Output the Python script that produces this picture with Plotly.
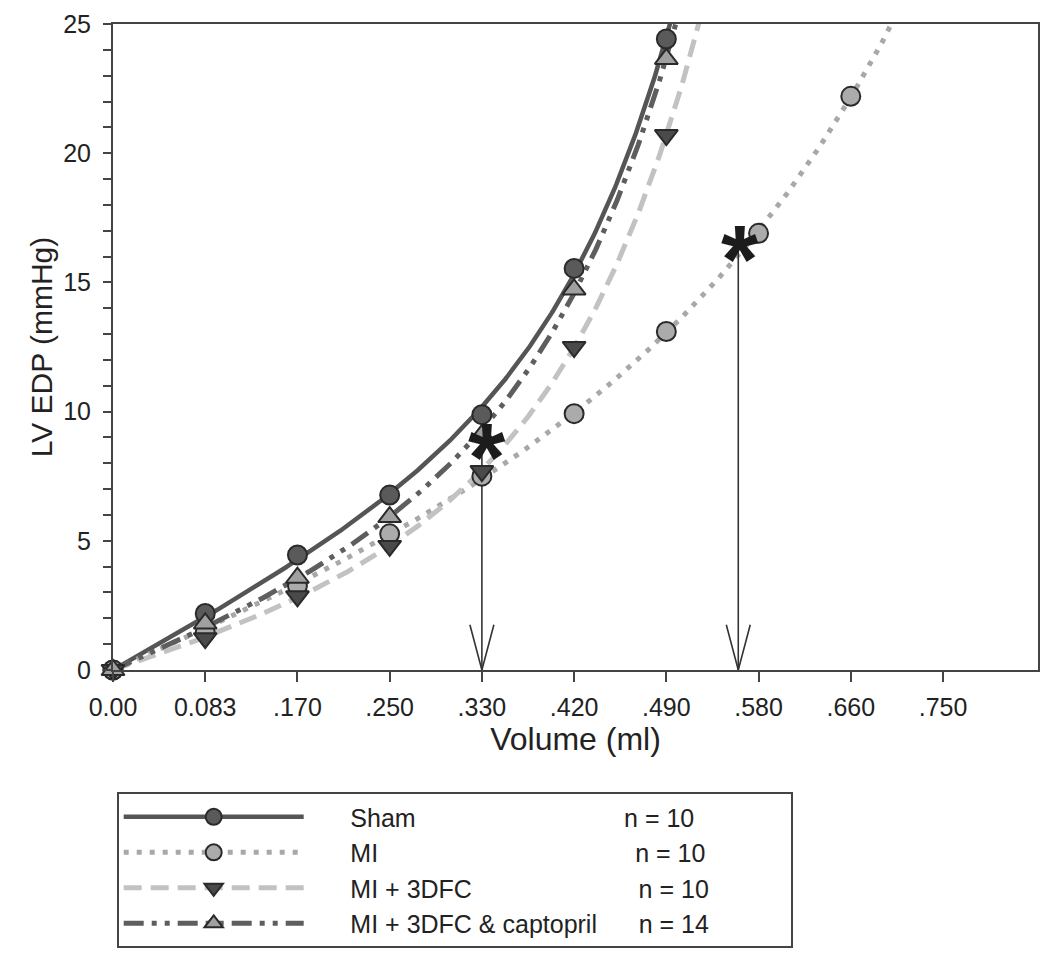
import numpy as np
import plotly.graph_objects as go

# ---------------- data ----------------
volume_labels = ["0.00", "0.083", ".170", ".250", ".330", ".420", ".490", ".580", ".660", ".750"]
volume_pos = list(range(len(volume_labels)))

series_names = ["Sham", "MI", "MI + 3DFC", "MI + 3DFC & captopril"]
n_values = [10, 10, 10, 14]

sham = [0.0, 2.19, 4.45, 6.77, 9.88, 15.54, 24.42]
mi = [0.0, 1.46, 3.26, 5.27, 7.5, 9.92, 13.1, 16.9, 22.2]
mi_3dfc = [0.0, 1.23, 2.85, 4.8, 7.7, 12.5, 20.7]
mi_3dfc_capt = [0.0, 1.8, 3.57, 5.92, 9.1, 14.73, 23.65]

# significance markers: arrows down to the volume axis, asterisks at their tops
arrow_x = [4.0, 6.78]
arrow_y = [8.9, 16.55]
star_x = [4.06, 6.8]
star_y = [8.9, 16.55]

# ---------------- styles ----------------
FONT = "Liberation Sans, Arial, Helvetica, sans-serif"
NB = "\u00a0"
styles = [
    dict(color="#555555", dash="solid", width=4.5, symbol="circle", mfill="#5a5a5a"),
    dict(color="#a8a8a8", dash="5px,8px", width=5, symbol="circle", mfill="#ababab"),
    dict(color="#c2c2c2", dash="18px,9px", width=5, symbol="triangle-down", mfill="#4a4a4a"),
    dict(color="#5e5e5e", dash="20px,8px,5px,8px,5px,8px", width=5, symbol="triangle-up", mfill="#a0a0a0"),
]
# spacing (in non-breaking spaces) used to lay out the legend text columns
legend_pad = [30, 37, 24, 6]
all_series = [sham, mi, mi_3dfc, mi_3dfc_capt]


def fit_curve(xv, yv):
    """least-squares fit  P = c*x + a*(exp(b*x) - 1)  (through the origin)"""
    xv = np.asarray(xv, float)
    yv = np.asarray(yv, float)
    best = None
    for b in np.linspace(0.05, 2.5, 2500):
        e = np.exp(b * xv) - 1
        A = np.column_stack([xv, e])
        coef, *_ = np.linalg.lstsq(A, yv, rcond=None)
        if not (coef[0] >= 0 and coef[1] >= 0):
            coef = np.array([0.0, (e @ yv) / (e @ e)])
        sse = float(((A @ coef - yv) ** 2).sum())
        if best is None or sse < best[0]:
            best = (sse, b, coef)
    _, b, cf = best
    return lambda t: cf[0] * t + cf[1] * (np.exp(b * t) - 1)


fig = go.Figure()

# fitted curves
t = np.linspace(0, 10, 800)
for name, ys, st in zip(series_names, all_series, styles):
    f = fit_curve(volume_pos[:len(ys)], ys)
    fig.add_trace(go.Scatter(
        x=t, y=f(t), mode="lines", showlegend=False, hoverinfo="skip",
        line=dict(color=st["color"], dash=st["dash"], width=st["width"]),
    ))

# arrows
HEAD_DX = 0.13
HEAD_DY = 1.75
for ax_, ay_ in zip(arrow_x, arrow_y):
    fig.add_trace(go.Scatter(
        x=[ax_, ax_, None, ax_ - HEAD_DX, ax_, ax_ + HEAD_DX],
        y=[ay_, 0, None, HEAD_DY, 0, HEAD_DY],
        mode="lines", showlegend=False, hoverinfo="skip",
        line=dict(color="#333333", width=1.6),
    ))

# data markers
for name, ys, st in zip(series_names, all_series, styles):
    fig.add_trace(go.Scatter(
        x=volume_pos[:len(ys)], y=ys, mode="markers", showlegend=False,
        cliponaxis=False, name=name,
        marker=dict(symbol=st["symbol"], size=19 if st["symbol"] == "circle" else 20,
                    color=st["mfill"], line=dict(color="#2a2a2a", width=2)),
    ))

# legend entries
for name, n, pad, st in zip(series_names, n_values, legend_pad, styles):
    label = NB * 6 + name + NB * pad + f"n = {n}" + NB * 11
    fig.add_trace(go.Scatter(
        x=[None], y=[None], mode="lines+markers", name=label,
        line=dict(color=st["color"], dash=st["dash"], width=st["width"]),
        marker=dict(symbol=st["symbol"], size=19, color=st["mfill"],
                    line=dict(color="#2a2a2a", width=2)),
    ))

annotations = []
for sx, sy in zip(star_x, star_y):
    annotations.append(dict(
        x=sx, y=sy, xref="x", yref="y", text="<b>*</b>", showarrow=False,
        font=dict(family=FONT, size=96, color="#1c1c1c"), yshift=-16,
    ))

fig.update_layout(
    width=1042, height=957,
    margin=dict(l=105, r=12, t=16, b=295),
    paper_bgcolor="white", plot_bgcolor="white",
    font=dict(family=FONT, color="#222222"),
    xaxis=dict(
        range=[0, 10.03], tickmode="array", tickvals=volume_pos, ticktext=volume_labels,
        ticks="outside", ticklen=10, tickwidth=1.5, tickcolor="#444444",
        showline=True, linecolor="#444444", linewidth=2, mirror=True,
        showgrid=False, zeroline=False, tickfont=dict(size=25),
        ticklabelstandoff=4, automargin=False, ticklabeloverflow="allow",
        title=dict(text="Volume (ml)", font=dict(size=32), standoff=6),
    ),
    yaxis=dict(
        range=[0, 25], tickmode="array", tickvals=[0, 5, 10, 15, 20, 25],
        ticks="outside", ticklen=8, tickwidth=1.5, tickcolor="#444444",
        minor=dict(dtick=1, ticks="outside", ticklen=8, tickwidth=1.5, tickcolor="#444444", showgrid=False),
        showline=True, linecolor="#444444", linewidth=2, mirror=True,
        showgrid=False, zeroline=False, tickfont=dict(size=25),
        ticklabelstandoff=7, automargin=False, ticklabeloverflow="allow",
        title=dict(text="LV EDP (mmHg)", font=dict(size=30), standoff=2),
    ),
    legend=dict(
        x=0.004, y=-0.189, xanchor="left", yanchor="top",
        bgcolor="white", bordercolor="#444444", borderwidth=2,
        font=dict(size=25, color="#222222"), itemwidth=180,
    ),
    annotations=annotations,
)

fig.write_html("out.html")
